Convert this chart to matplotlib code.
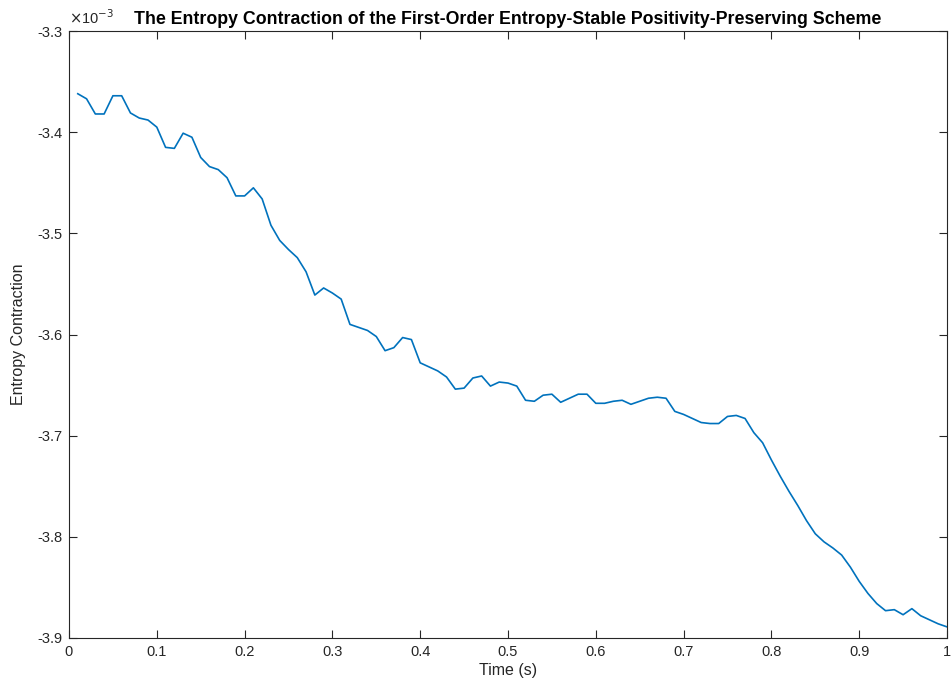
import matplotlib
matplotlib.use("Agg")
import matplotlib.pyplot as plt

plt.rcParams['font.family'] = ['Liberation Sans', 'DejaVu Sans']

# time samples (s)
time = [0.01, 0.02, 0.03, 0.04, 0.05, 0.06, 0.07, 0.08, 0.09, 0.10,
        0.11, 0.12, 0.13, 0.14, 0.15, 0.16, 0.17, 0.18, 0.19, 0.20,
        0.21, 0.22, 0.23, 0.24, 0.25, 0.26, 0.27, 0.28, 0.29, 0.30,
        0.31, 0.32, 0.33, 0.34, 0.35, 0.36, 0.37, 0.38, 0.39, 0.40,
        0.41, 0.42, 0.43, 0.44, 0.45, 0.46, 0.47, 0.48, 0.49, 0.50,
        0.51, 0.52, 0.53, 0.54, 0.55, 0.56, 0.57, 0.58, 0.59, 0.60,
        0.61, 0.62, 0.63, 0.64, 0.65, 0.66, 0.67, 0.68, 0.69, 0.70,
        0.71, 0.72, 0.73, 0.74, 0.75, 0.76, 0.77, 0.78, 0.79, 0.80,
        0.81, 0.82, 0.83, 0.84, 0.85, 0.86, 0.87, 0.88, 0.89, 0.90,
        0.91, 0.92, 0.93, 0.94, 0.95, 0.96, 0.97, 0.98, 0.99, 1.00]

# entropy contraction, in units of 1e-3
entropy = [-3.362, -3.367, -3.382, -3.382, -3.364, -3.364, -3.381, -3.386, -3.388, -3.395,
           -3.415, -3.416, -3.401, -3.405, -3.425, -3.434, -3.437, -3.445, -3.463, -3.463,
           -3.455, -3.466, -3.492, -3.507, -3.516, -3.524, -3.538, -3.561, -3.554, -3.559,
           -3.565, -3.590, -3.593, -3.596, -3.602, -3.616, -3.613, -3.603, -3.605, -3.628,
           -3.632, -3.636, -3.642, -3.654, -3.653, -3.643, -3.641, -3.651, -3.647, -3.648,
           -3.651, -3.665, -3.666, -3.660, -3.659, -3.667, -3.663, -3.659, -3.659, -3.668,
           -3.668, -3.666, -3.665, -3.669, -3.666, -3.663, -3.662, -3.663, -3.676, -3.679,
           -3.683, -3.687, -3.688, -3.688, -3.681, -3.680, -3.683, -3.697, -3.707, -3.724,
           -3.740, -3.755, -3.769, -3.784, -3.797, -3.805, -3.811, -3.818, -3.830, -3.844,
           -3.856, -3.866, -3.873, -3.872, -3.877, -3.871, -3.878, -3.882, -3.886, -3.889]

xticks = [0, 0.1, 0.2, 0.3, 0.4, 0.5, 0.6, 0.7, 0.8, 0.9, 1]
xtick_labels = ['0', '0.1', '0.2', '0.3', '0.4', '0.5', '0.6', '0.7', '0.8', '0.9', '1']
yticks = [-3.9, -3.8, -3.7, -3.6, -3.5, -3.4, -3.3]
ytick_labels = ['-3.9', '-3.8', '-3.7', '-3.6', '-3.5', '-3.4', '-3.3']

fig = plt.figure(figsize=(9.53, 6.94), dpi=100)
ax = fig.add_axes([0.0724, 0.0807, 0.9213, 0.8746])

ax.plot(time, entropy, color='#0072BD', linewidth=1.2)

ax.set_xlim(0, 1)
ax.set_ylim(-3.9, -3.3)
ax.set_xticks(xticks)
ax.set_xticklabels(xtick_labels)
ax.set_yticks(yticks)
ax.set_yticklabels(ytick_labels)

grey = '#262626'
for s in ax.spines.values():
    s.set_color(grey)
    s.set_linewidth(0.8)
ax.tick_params(direction='in', top=True, right=True, length=6, width=0.8,
               colors=grey, labelsize=10.5, pad=5)

ax.set_xlabel('Time (s)', fontsize=11.5, color=grey, labelpad=3)
ax.set_ylabel('Entropy Contraction', fontsize=11.5, color=grey, labelpad=8)
ax.set_title('The Entropy Contraction of the First-Order Entropy-Stable Positivity-Preserving Scheme',
             fontsize=12.8, fontweight='bold', color='black', pad=5)
ax.text(0.0, 1.006, r'$\times$10$^{-3}$', transform=ax.transAxes,
        fontsize=10.5, color=grey, ha='left', va='bottom')

fig.savefig('out.png', dpi=100)
